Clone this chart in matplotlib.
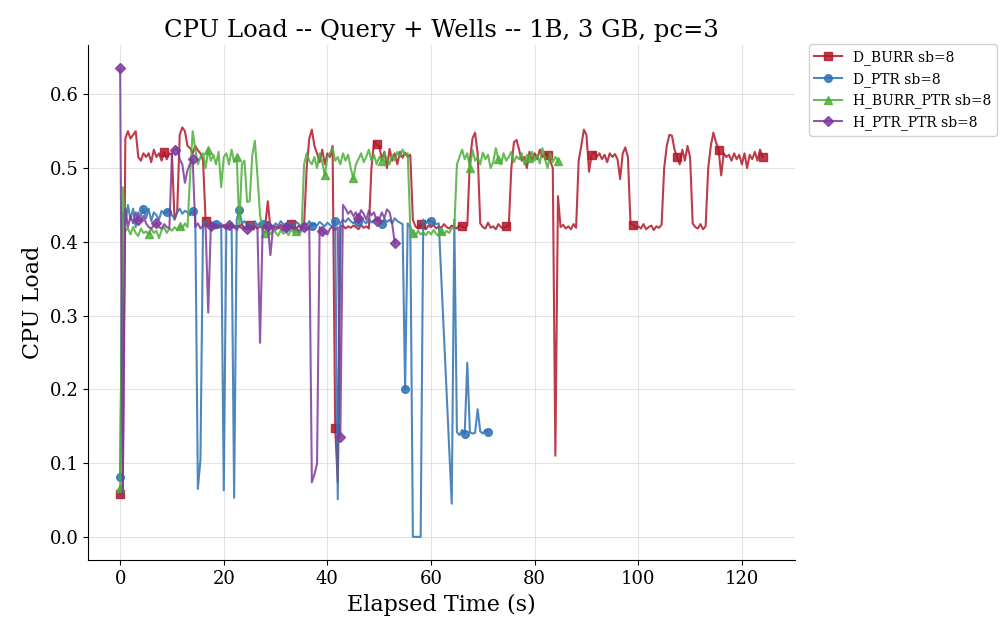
import numpy as np
import matplotlib.pyplot as plt

plt.rcParams['font.family'] = 'DejaVu Serif'

# samples logged every 0.5 s; None = no reading
STEP = 0.5

d_burr = [
    0.058, 0.060, 0.540, 0.550, 0.540, 0.545, 0.550, 0.515, 0.510, 0.520,
    0.515, 0.520, 0.508, 0.525, 0.515, 0.520, 0.510, 0.522, 0.512, 0.520,
    0.518, 0.430, 0.440, 0.545, 0.555, 0.550, 0.530, 0.527, 0.520, 0.530,
    0.524, 0.520, 0.510, 0.428, 0.422, 0.420, 0.425, 0.418, 0.422, 0.420,
    0.423, 0.418, 0.421, 0.425, 0.419, 0.422, 0.420, 0.424, 0.418, 0.421,
    0.423, 0.419, 0.422, 0.418, 0.421, 0.420, 0.422, 0.455, 0.418, 0.419,
    0.421, 0.418, 0.423, 0.420, 0.422, 0.419, 0.424, 0.420, 0.418, 0.422,
    0.420, 0.423, 0.500, 0.540, 0.552, 0.530, 0.520, 0.508, 0.525, 0.505,
    0.520, 0.515, 0.530, 0.148, 0.074, 0.420, 0.422, 0.418, 0.421, 0.419,
    0.422, 0.420, 0.417, 0.423, 0.419, 0.421, 0.418, 0.500, 0.536, 0.532,
    0.530, 0.512, 0.522, 0.500, 0.526, 0.510, 0.520, 0.505, 0.522, 0.514,
    0.521, 0.515, 0.518, 0.430, 0.421, 0.418, 0.424, 0.420, 0.417, 0.422,
    0.420, 0.423, 0.418, 0.421, 0.419, 0.424, 0.420, 0.418, 0.422, 0.420,
    0.418, 0.423, 0.421, 0.419, 0.422, 0.510, 0.540, 0.548, 0.520, 0.425,
    0.420, 0.418, 0.426, 0.419, 0.421, 0.417, 0.424, 0.420, 0.418, 0.422,
    0.420, 0.500, 0.535, 0.538, 0.525, 0.510, 0.515, 0.500, 0.522, 0.510,
    0.520, 0.512, 0.525, 0.515, 0.520, 0.518, 0.510, 0.500, 0.110, 0.462,
    0.420, 0.423, 0.418, 0.421, 0.417, 0.424, 0.419, 0.510, 0.530, 0.552,
    0.545, 0.495, 0.518, 0.522, 0.515, 0.520, 0.512, 0.518, 0.508, 0.520,
    0.515, 0.519, 0.512, 0.485, 0.520, 0.528, 0.515, 0.425, 0.423, 0.419,
    0.421, 0.418, 0.424, 0.417, 0.420, 0.422, 0.416, 0.421, 0.419, 0.423,
    0.500, 0.530, 0.545, 0.544, 0.525, 0.515, 0.505, 0.525, 0.510, 0.530,
    0.515, 0.425, 0.420, 0.418, 0.424, 0.417, 0.421, 0.500, 0.530, 0.548,
    0.535, 0.525, 0.490, 0.520, 0.515, 0.518, 0.510, 0.520, 0.512, 0.518,
    0.505, 0.520, 0.500, 0.518, 0.512, 0.522, 0.510, 0.525, 0.515,
]

d_ptr = [
    0.081, 0.440, 0.425, 0.450, 0.430, 0.445, 0.420, 0.440, 0.435, 0.445,
    0.432, 0.445, 0.428, 0.440, 0.436, 0.430, 0.442, 0.438, 0.440, 0.444,
    0.436, 0.432, 0.440, 0.445, 0.438, 0.442, 0.440, 0.436, 0.442, 0.438,
    0.065, 0.105, 0.425, 0.428, 0.422, 0.426, 0.420, 0.424, 0.421, 0.425,
    0.063, 0.423, 0.420, 0.426, 0.053, 0.430, 0.443, 0.425, 0.428, 0.422,
    0.425, 0.420, 0.428, 0.422, 0.426, 0.424, 0.421, 0.427, 0.423, 0.420,
    0.425, 0.422, 0.428, 0.424, 0.420, 0.426, 0.423, 0.421, 0.427, 0.424,
    0.420, 0.426, 0.423, 0.428, 0.421, 0.425, 0.422, 0.427, 0.424, 0.421,
    0.426, 0.423, 0.420, 0.428, 0.051, 0.425, 0.430, 0.427, 0.432, 0.428,
    0.425, 0.430, 0.427, 0.433, 0.428, 0.425, 0.431, 0.426, 0.429, 0.432,
    0.428, 0.424, 0.431, 0.427, 0.430, 0.425, 0.432, 0.428, 0.426, 0.424,
    0.200, 0.425, 0.420, 0.000, 0.000, 0.000, 0.000, 0.430, 0.425, 0.430,
    0.428, 0.426, 0.424, 0.425, None, None, None, None, 0.045, 0.430,
    0.142, 0.138, 0.145, 0.140, 0.236, 0.142, 0.140, 0.141, 0.173, 0.143,
    0.140, 0.145, 0.142,
]

h_burr_ptr = [
    0.066, 0.474, 0.415, 0.418, 0.410, 0.420, 0.412, 0.408, 0.418, 0.412,
    0.414, 0.410, 0.418, 0.412, 0.415, 0.405, 0.416, 0.420, 0.412, 0.418,
    0.415, 0.420, 0.416, 0.422, 0.418, 0.425, 0.420, 0.490, 0.550, 0.525,
    0.505, 0.515, 0.520, 0.500, 0.525, 0.510, 0.518, 0.505, 0.522, 0.474,
    0.515, 0.520, 0.505, 0.525, 0.508, 0.515, 0.420, 0.505, 0.510, 0.454,
    0.455, 0.517, 0.537, 0.490, 0.436, 0.416, 0.412, 0.418, 0.410, 0.415,
    0.413, 0.408, 0.416, 0.411, 0.414, 0.409, 0.417, 0.412, 0.415, 0.410,
    0.414, 0.505, 0.520, 0.510, 0.505, 0.515, 0.500, 0.520, 0.508, 0.490,
    0.515, 0.520, 0.527, 0.510, 0.515, 0.505, 0.520, 0.510, 0.518, 0.500,
    0.486, 0.505, 0.512, 0.520, 0.508, 0.515, 0.525, 0.510, 0.518, 0.505,
    0.515, 0.510, 0.520, 0.512, 0.505, 0.518, 0.510, 0.522, 0.515, 0.525,
    0.518, 0.520, 0.420, 0.412, 0.408, 0.415, 0.410, 0.413, 0.409, 0.414,
    0.410, 0.416, 0.411, 0.408, 0.414, 0.410, 0.415, 0.412, 0.418, 0.420,
    0.505, 0.515, 0.525, 0.512, 0.520, 0.500, 0.525, 0.510, 0.515, 0.505,
    0.521, 0.512, 0.518, 0.500, 0.508, 0.527, 0.512, 0.505, 0.520, 0.510,
    0.515, 0.522, 0.508, 0.516, 0.512, 0.520, 0.505, 0.518, 0.514, 0.522,
    0.510, 0.518, 0.506, 0.527, 0.512, 0.500, 0.520, 0.508, 0.515, 0.510,
]

h_ptr_ptr = [
    0.635, 0.054, 0.445, 0.420, 0.435, 0.425, 0.440, 0.430, 0.428, 0.435,
    0.425, 0.420, 0.418, 0.422, 0.426, 0.420, 0.418, 0.424, 0.420, 0.418,
    0.520, 0.525, 0.527, 0.512, 0.505, 0.480, 0.497, 0.506, 0.512, 0.420,
    0.425, 0.418, 0.422, 0.420, 0.304, 0.421, 0.418, 0.424, 0.419, 0.422,
    0.420, 0.417, 0.423, 0.419, 0.421, 0.416, 0.422, 0.418, 0.420, 0.417,
    0.421, 0.419, 0.422, 0.418, 0.263, 0.420, 0.418, 0.421, 0.382, 0.419,
    0.416, 0.421, 0.418, 0.415, 0.420, 0.417, 0.422, 0.416, 0.419, 0.414,
    0.418, 0.420, 0.416, 0.421, 0.074, 0.085, 0.099, 0.420, 0.415, 0.412,
    0.410, 0.418, 0.420, 0.416, 0.420, 0.135, 0.450, 0.445, 0.438, 0.442,
    0.435, 0.440, 0.432, 0.443, 0.438, 0.430, 0.442, 0.436, 0.440, 0.428,
    0.430, 0.440, 0.432, 0.444, 0.440, 0.425, 0.398,
]

series = [
    ('D_BURR sb=8', d_burr, '#b2182b', 's'),
    ('D_PTR sb=8', d_ptr, '#2f72b3', 'o'),
    ('H_BURR_PTR sb=8', h_burr_ptr, '#4daf3a', '^'),
    ('H_PTR_PTR sb=8', h_ptr_ptr, '#7e3a9c', 'D'),
]

fig, ax = plt.subplots(figsize=(10.06, 6.26), dpi=100)
fig.subplots_adjust(left=0.0875, right=0.790, bottom=0.105, top=0.928)

for label, vals, color, marker in series:
    v = np.array(vals, dtype=float)
    t = np.arange(len(v)) * STEP
    keep = ~np.isnan(v)
    t, v = t[keep], v[keep]
    marks = np.linspace(0, len(v) - 1, 16).round().astype(int)
    ms = 5 if marker == 'D' else 5.5
    ax.plot(t, v, color=color, marker=marker, markevery=list(marks),
            markersize=ms, linewidth=1.5, alpha=0.85, label=label)

ax.set_title('CPU Load -- Query + Wells -- 1B, 3 GB, pc=3', fontsize=17.5)
ax.set_xlabel('Elapsed Time (s)', fontsize=16)
ax.set_ylabel('CPU Load', fontsize=16)
ax.tick_params(labelsize=13)
ax.grid(True, color='#dddddd', linewidth=0.8, alpha=0.8)
ax.spines['top'].set_visible(False)
ax.spines['right'].set_visible(False)

ax.legend(loc='upper left', bbox_to_anchor=(1.01, 1.015), fontsize=10,
          frameon=True, framealpha=0.9)

fig.savefig('out.png', dpi=100)
